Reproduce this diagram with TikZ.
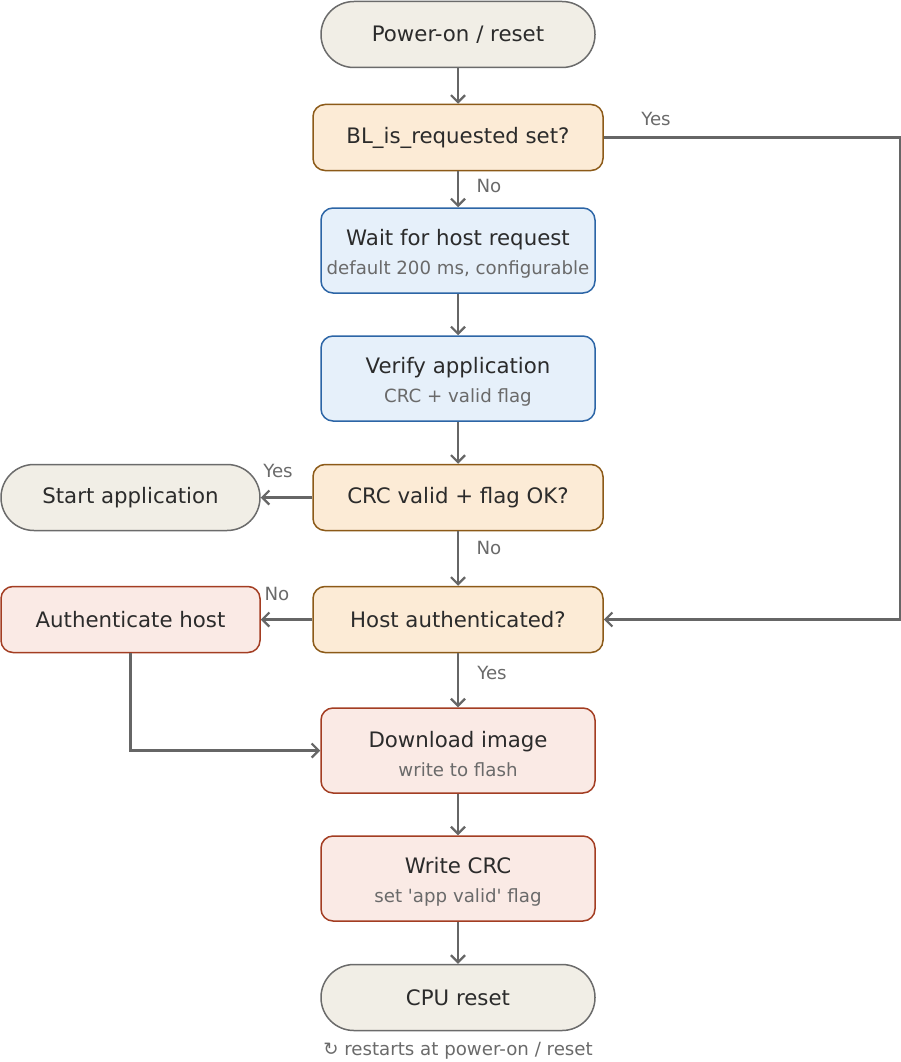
\documentclass[tikz,border=0pt]{standalone}
\usepackage{fontspec}
\setmainfont{DejaVu Sans}
\usetikzlibrary{arrows.meta,positioning}

\definecolor{inkmain}{HTML}{2B2B2B}
\definecolor{inksub}{HTML}{6A6A6A}
\definecolor{wire}{HTML}{666666}
\definecolor{termfill}{HTML}{F1EEE6}
\definecolor{termdraw}{HTML}{6B6B6B}
\definecolor{askfill}{HTML}{FCEBD6}
\definecolor{askdraw}{HTML}{8C5A18}
\definecolor{workfill}{HTML}{E6F0FA}
\definecolor{workdraw}{HTML}{2C65A6}
\definecolor{flashfill}{HTML}{FAEAE5}
\definecolor{flashdraw}{HTML}{A33D22}

\newcommand{\mainsize}{\fontsize{21.3}{25}\selectfont}
\newcommand{\twoline}[2]{\rule{0pt}{22.5pt}#1\\[4pt]{\fontsize{18.2}{21}\selectfont\color{inksub}#2}}

\begin{document}
\begin{tikzpicture}[x=1pt,y=-1pt,
    base/.style={line width=1.5pt,text=inkmain,font=\mainsize,align=center,inner sep=0pt},
    term/.style={base,draw=termdraw,fill=termfill,minimum width=274pt,minimum height=66pt,rounded corners=32.9pt},
    ask/.style={base,draw=askdraw,fill=askfill,minimum width=290pt,minimum height=66pt,rounded corners=12pt},
    work/.style={base,draw=workdraw,fill=workfill,minimum width=274pt,minimum height=85pt,rounded corners=12pt},
    flash/.style={base,draw=flashdraw,fill=flashfill,minimum width=274pt,minimum height=85pt,rounded corners=12pt},
    flow/.style={draw=wire,line width=2.2pt,-{Straight Barb[length=7pt,width=14pt,line width=2.2pt]}},
    lbl/.style={text=inksub,font=\fontsize{18.2}{21}\selectfont,inner sep=0pt}]
\useasboundingbox (0,0) rectangle (901,1062);

% main column
\node[term] (power) at (458,34.5) {Power-on / reset};
\node[ask] (blreq) at (458,137.5) {BL\_is\_requested set?};
\node[work] (wait) at (458,250.5) {\twoline{Wait for host request}{default 200 ms, configurable}};
\node[work] (verify) at (458,378.5) {\twoline{Verify application}{CRC + valid flag}};
\node[ask] (crcok) at (458,497.5) {CRC valid + flag OK?};
\node[ask] (hostauth) at (458,619.5) {Host authenticated?};
\node[flash] (download) at (458,750.5) {\twoline{Download image}{write to flash}};
\node[flash] (writecrc) at (458,878.5) {\twoline{Write CRC}{set \textquotesingle app valid\textquotesingle{} flag}};
\node[term] (cpureset) at (458,997.5) {CPU reset};
\node[lbl] (restart) at (458,1051) {↻ restarts at power-on / reset};

% side boxes
\node[term,minimum width=259pt] (startapp) at (130.5,497.5) {Start application};
\node[flash,minimum width=259pt,minimum height=66pt] (authhost) at (130.5,619.5) {Authenticate host};

% connectors
\draw[flow] (power) -- (blreq);
\draw[flow] (blreq) -- (wait);
\draw[flow] (wait) -- (verify);
\draw[flow] (verify) -- (crcok);
\draw[flow] (crcok) -- (hostauth);
\draw[flow] (hostauth) -- (download);
\draw[flow] (download) -- (writecrc);
\draw[flow] (writecrc) -- (cpureset);
\draw[flow] (crcok) -- (startapp);
\draw[flow] (hostauth) -- (authhost);
\draw[flow] (authhost.south) |- (download.west);
\coordinate (yescorner) at (900,137.5);
\draw[flow] (blreq.east) -- (yescorner) |- (hostauth.east);

% labels
\node[lbl] (yes1) at (656,119) {Yes};
\node[lbl] (no1) at (489,186) {No};
\node[lbl] (yes2) at (278,471) {Yes};
\node[lbl] (no2) at (489,548) {No};
\node[lbl] (no3) at (277,594) {No};
\node[lbl] (yes3) at (492,673) {Yes};
\end{tikzpicture}
\end{document}
